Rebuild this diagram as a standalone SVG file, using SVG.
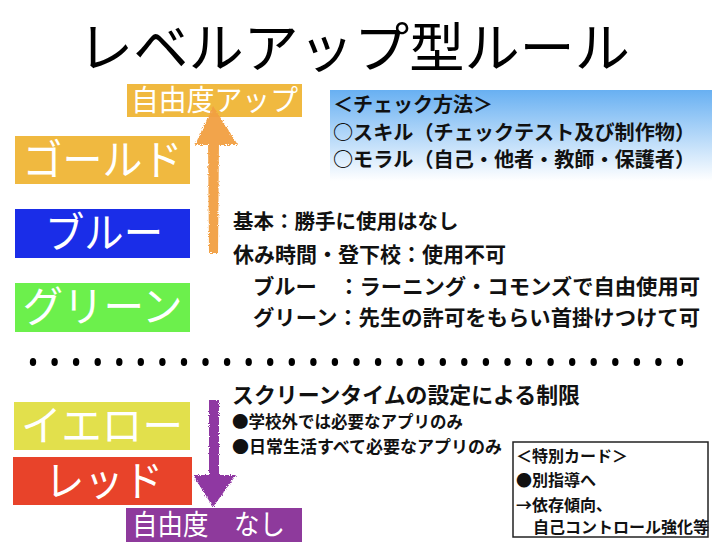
<svg xmlns="http://www.w3.org/2000/svg" width="714" height="542" viewBox="0 0 714 542">
<defs>
<style>
.jp{font-family:"Noto Sans CJK JP","Noto Sans CJK SC",sans-serif;}
.lbl{font-family:"Noto Sans CJK JP",sans-serif;fill:#ffffff;font-weight:400;}
.bd{font-family:"Noto Sans CJK JP",sans-serif;fill:#111111;font-weight:700;}
</style>
<linearGradient id="skyg" x1="0" y1="0" x2="0" y2="1">
<stop offset="0" stop-color="#68B0F2"/>
<stop offset="1" stop-color="#FFFFFF"/>
</linearGradient>
<filter id="crayon" x="-20%" y="-10%" width="140%" height="120%">
<feTurbulence type="fractalNoise" baseFrequency="0.9" numOctaves="2" seed="3" result="n"/>
<feDisplacementMap in="SourceGraphic" in2="n" scale="4" xChannelSelector="R" yChannelSelector="G"/>
</filter>
</defs>
<rect width="714" height="542" fill="#ffffff"/>

<g id="title">
<text class="jp" x="78" y="68" font-size="54" textLength="552" lengthAdjust="spacingAndGlyphs" fill="#000">レベルアップ型ルール</text>
</g>

<g id="freedom-up">
<rect x="127" y="84" width="175" height="33" fill="#F0B940"/>
<text class="lbl" x="214.5" y="111" font-size="29" text-anchor="middle" textLength="167" lengthAdjust="spacingAndGlyphs">自由度アップ</text>
</g>

<g id="gold">
<rect x="15" y="136" width="175" height="48" fill="#F0B940"/>
<text class="lbl" x="102.5" y="175" font-size="42" text-anchor="middle" textLength="160" lengthAdjust="spacingAndGlyphs">ゴールド</text>
</g>

<g id="blue">
<rect x="15" y="209" width="175" height="49" fill="#1A2DE8"/>
<text class="lbl" x="104" y="248" font-size="42" text-anchor="middle" textLength="118" lengthAdjust="spacingAndGlyphs">ブルー</text>
</g>

<g id="green">
<rect x="15" y="283" width="175" height="49" fill="#6CF04C"/>
<text class="lbl" x="102.5" y="322" font-size="42" text-anchor="middle" textLength="160" lengthAdjust="spacingAndGlyphs">グリーン</text>
</g>

<g id="check-method">
<rect x="330" y="90" width="382" height="91" fill="url(#skyg)"/>
<text class="bd" x="333" y="112" font-size="20">＜チェック方法＞</text>
<text class="bd" x="333" y="140" font-size="20" textLength="362" lengthAdjust="spacingAndGlyphs">○スキル（チェックテスト及び制作物）</text>
<text class="bd" x="333" y="167" font-size="20" textLength="362" lengthAdjust="spacingAndGlyphs">○モラル（自己・他者・教師・保護者）</text>
</g>

<g id="usage-rules">
<text class="bd" x="233" y="229" font-size="20.5">基本：勝手に使用はなし</text>
<text class="bd" x="233" y="262" font-size="21">休み時間・登下校：使用不可</text>
<text class="bd" x="253" y="294" font-size="21" textLength="447" lengthAdjust="spacingAndGlyphs">ブルー　：ラーニング・コモンズで自由使用可</text>
<text class="bd" x="253" y="325" font-size="21" textLength="447" lengthAdjust="spacingAndGlyphs">グリーン：先生の許可をもらい首掛けつけて可</text>
</g>

<g id="divider" fill="#000">
<ellipse cx="33" cy="362" rx="3.2" ry="4"/><ellipse cx="54.6" cy="362" rx="3.2" ry="4"/><ellipse cx="76.1" cy="362" rx="3.2" ry="4"/><ellipse cx="97.7" cy="362" rx="3.2" ry="4"/><ellipse cx="119.3" cy="362" rx="3.2" ry="4"/><ellipse cx="140.8" cy="362" rx="3.2" ry="4"/><ellipse cx="162.4" cy="362" rx="3.2" ry="4"/><ellipse cx="184" cy="362" rx="3.2" ry="4"/><ellipse cx="205.5" cy="362" rx="3.2" ry="4"/><ellipse cx="227.1" cy="362" rx="3.2" ry="4"/><ellipse cx="248.7" cy="362" rx="3.2" ry="4"/><ellipse cx="270.2" cy="362" rx="3.2" ry="4"/><ellipse cx="291.8" cy="362" rx="3.2" ry="4"/><ellipse cx="313.4" cy="362" rx="3.2" ry="4"/><ellipse cx="334.9" cy="362" rx="3.2" ry="4"/><ellipse cx="356.5" cy="362" rx="3.2" ry="4"/><ellipse cx="378.1" cy="362" rx="3.2" ry="4"/><ellipse cx="399.6" cy="362" rx="3.2" ry="4"/><ellipse cx="421.2" cy="362" rx="3.2" ry="4"/><ellipse cx="442.8" cy="362" rx="3.2" ry="4"/><ellipse cx="464.3" cy="362" rx="3.2" ry="4"/><ellipse cx="485.9" cy="362" rx="3.2" ry="4"/><ellipse cx="507.5" cy="362" rx="3.2" ry="4"/><ellipse cx="529" cy="362" rx="3.2" ry="4"/><ellipse cx="550.6" cy="362" rx="3.2" ry="4"/><ellipse cx="572.2" cy="362" rx="3.2" ry="4"/><ellipse cx="593.7" cy="362" rx="3.2" ry="4"/><ellipse cx="615.3" cy="362" rx="3.2" ry="4"/><ellipse cx="636.9" cy="362" rx="3.2" ry="4"/><ellipse cx="658.4" cy="362" rx="3.2" ry="4"/><ellipse cx="680" cy="362" rx="3.2" ry="4"/>
</g>

<g id="yellow">
<rect x="14" y="402" width="176" height="48" fill="#E2E04C"/>
<text class="lbl" x="102" y="441" font-size="42" text-anchor="middle" textLength="162" lengthAdjust="spacingAndGlyphs">イエロー</text>
</g>

<g id="red">
<rect x="13" y="457" width="179" height="48" fill="#E8432A"/>
<text class="lbl" x="104" y="496" font-size="42" text-anchor="middle" textLength="118" lengthAdjust="spacingAndGlyphs">レッド</text>
</g>

<g id="freedom-none">
<rect x="126" y="508" width="176" height="34" fill="#8E3A9C"/>
<text class="lbl" x="132" y="535" font-size="28" textLength="153" lengthAdjust="spacingAndGlyphs">自由度　なし</text>
</g>

<g id="screen-time">
<text class="bd" x="232" y="403" font-size="22" textLength="348" lengthAdjust="spacingAndGlyphs">スクリーンタイムの設定による制限</text>
<text class="bd" x="232" y="428" font-size="16.5" textLength="231" lengthAdjust="spacingAndGlyphs">●学校外では必要なアプリのみ</text>
<text class="bd" x="232" y="453" font-size="16.8" textLength="270" lengthAdjust="spacingAndGlyphs">●日常生活すべて必要なアプリのみ</text>
</g>

<g id="special-card">
<rect x="513" y="442" width="195" height="95" fill="#ffffff" stroke="#222" stroke-width="1.5"/>
<text class="bd" x="516" y="462" font-size="16">＜特別カード＞</text>
<text class="bd" x="516" y="486" font-size="16">●別指導へ</text>
<text class="bd" x="516" y="511" font-size="16">→依存傾向、</text>
<text class="bd" x="533" y="533" font-size="16">自己コントロール強化等</text>
</g>

<g id="connectors">
<g filter="url(#crayon)" fill="#F2A043" opacity="0.95">
<polygon points="208,140 219,140 218,253 209,253"/>
<polygon points="213,106 238,145 195,145"/>
</g>
<g filter="url(#crayon)" fill="#8A2E9E" opacity="0.95">
<rect x="209" y="400" width="10" height="80"/>
<polygon points="193,475 236,475 213,507"/>
</g>
</g>
</svg>
